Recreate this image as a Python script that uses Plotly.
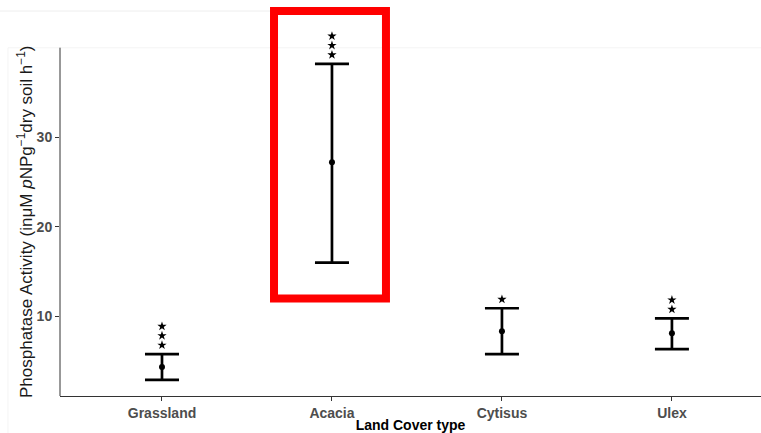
import plotly.graph_objects as go

categories = ["Grassland", "Acacia", "Cytisus", "Ulex"]
means = [4.33, 27.2, 8.33, 8.1]
upper = [5.78, 38.2, 10.9, 9.78]
lower = [2.9, 16.0, 5.78, 6.33]
stars = [3, 3, 1, 2]
y_ticks = [10, 20, 30]

xpos = list(range(1, len(categories) + 1))
y_min, y_axis_top, y_max = 1.1, 40, 44.1

fig = go.Figure()

fig.add_trace(go.Scatter(
    x=xpos, y=means, mode="markers",
    marker=dict(color="black", size=6),
    error_y=dict(type="data", symmetric=False,
                 array=[u - m for u, m in zip(upper, means)],
                 arrayminus=[m - l for m, l in zip(means, lower)],
                 color="black", thickness=2.7, width=17),
    showlegend=False, hoverinfo="skip",
))

sx, sy = [], []
for x, u, n in zip(xpos, upper, stars):
    for i in range(n):
        sx.append(x)
        sy.append(u + 1.0 + i * 1.05)
fig.add_trace(go.Scatter(
    x=sx, y=sy, mode="markers",
    marker=dict(symbol="star", color="black", size=7, line=dict(width=0)),
    cliponaxis=False, showlegend=False, hoverinfo="skip",
))

shapes = [
    # faint screenshot artefact lines
    dict(type="line", xref="paper", yref="paper", x0=-0.0856, x1=0.3139, y0=1.0, y1=1.0,
         line=dict(color="#eeeeee", width=1), layer="below"),
    dict(type="rect", xref="paper", yref="paper", x0=-0.0742, x1=1.01, y0=-0.1, y1=0.9044,
         line=dict(color="#f4f4f4", width=1), layer="below"),
    # y axis line (only up to the axis extent)
    dict(type="line", xref="paper", yref="y", x0=0, x1=0, y0=y_min, y1=y_axis_top,
         line=dict(color="#333333", width=1)),
    # red highlight rectangle
    dict(type="rect", xref="paper", yref="paper", x0=0.3053, x1=0.465, y0=0.2532, y1=1.0,
         line=dict(color="#ff0000", width=8)),
]

fig.update_layout(
    width=761, height=433,
    margin=dict(l=60, r=0, t=11, b=35),
    paper_bgcolor="white", plot_bgcolor="white",
    font=dict(family="Liberation Sans, Arial, sans-serif"),
    shapes=shapes,
    annotations=[dict(
        text="Phosphatase Activity (inμM <i>p</i>NPg<sup>−1</sup>dry soil h<sup>−1</sup>)",
        xref="paper", yref="paper", x=-0.0499, y=0.452, textangle=-90,
        showarrow=False, xanchor="center", yanchor="middle",
        font=dict(size=17, color="#1a1a1a"),
    )],
    xaxis=dict(
        range=[0.4, 4.524], tickvals=xpos, ticktext=categories,
        showline=True, linecolor="#333333", linewidth=1,
        ticks="outside", ticklen=4, tickcolor="#333333",
        showgrid=False, zeroline=False,
        tickfont=dict(size=14, color="#4d4d4d", family="Liberation Sans, Arial, sans-serif", weight="bold"),
        title=dict(text="<b>Land Cover type</b>", font=dict(size=14, color="black"), standoff=2),
    ),
    yaxis=dict(
        range=[y_min, y_max], tickvals=y_ticks,
        showline=False,
        ticks="outside", ticklen=4, tickcolor="#333333",
        showgrid=False, zeroline=False,
        tickfont=dict(size=14, color="#4d4d4d", family="Liberation Sans, Arial, sans-serif", weight="bold"),
    ),
)

fig.write_html("out.html")
